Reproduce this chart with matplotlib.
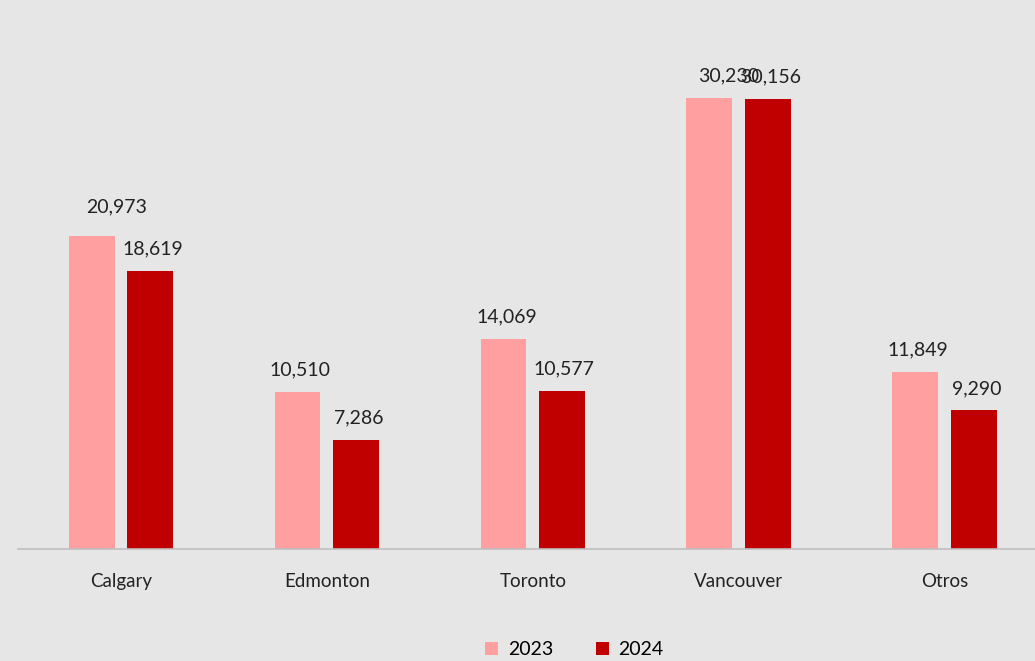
import numpy as np
import matplotlib.pyplot as plt

plt.rcParams['font.family'] = ['Lato', 'DejaVu Sans']

# datos
ciudades = ['Calgary', 'Edmonton', 'Toronto', 'Vancouver', 'Otros']
v2023 = [20973, 10510, 14069, 30230, 11849]
v2024 = [18619, 7286, 10577, 30156, 9290]

bg = '#e6e6e6'
c2023 = '#ff9f9f'
c2024 = '#c00000'

fig = plt.figure(figsize=(10.35, 6.61), dpi=100, facecolor=bg)
ax = fig.add_axes([0.0174, 0.1694, 0.995, 0.7897])
ax.set_facecolor(bg)

x = np.arange(len(ciudades))
w = 0.223
off = 0.143
b1 = ax.bar(x - off, v2023, w, color=c2023, label='2023')
b2 = ax.bar(x + off, v2024, w, color=c2024, label='2024')

ax.set_xlim(-0.5, 4.5)
ax.set_ylim(0, 35000)

# etiquetas de datos (algunas movidas a mano como en el original)
dx1 = [25, 2, 3, 19, 2]
dy1 = [29, 22, 22, 22, 22]
for i, r in enumerate(b1):
    ax.annotate(f'{v2023[i]:,}', (r.get_x() + r.get_width() / 2, r.get_height()),
                xytext=(dx1[i], dy1[i]), textcoords='offset pixels',
                ha='center', va='center', fontsize=14, color='#222222')
for i, r in enumerate(b2):
    ax.annotate(f'{v2024[i]:,}', (r.get_x() + r.get_width() / 2, r.get_height()),
                xytext=(2, 22), textcoords='offset pixels',
                ha='center', va='center', fontsize=14, color='#222222')

ax.set_xticks(x)
ax.set_xticklabels(ciudades, fontsize=13.5, color='#222222')
ax.tick_params(axis='x', length=0, pad=17)
ax.set_yticks([])
for s in ['top', 'right', 'left']:
    ax.spines[s].set_visible(False)
ax.spines['bottom'].set_color('#bfbfbf')
ax.spines['bottom'].set_linewidth(1.2)

fig.legend(loc='center', bbox_to_anchor=(0.555, 0.017), ncol=2, frameon=False,
           fontsize=14, handlelength=0.65, handleheight=0.65, columnspacing=2.2,
           handletextpad=0.5)

fig.savefig('out.png', dpi=100, facecolor=bg)
